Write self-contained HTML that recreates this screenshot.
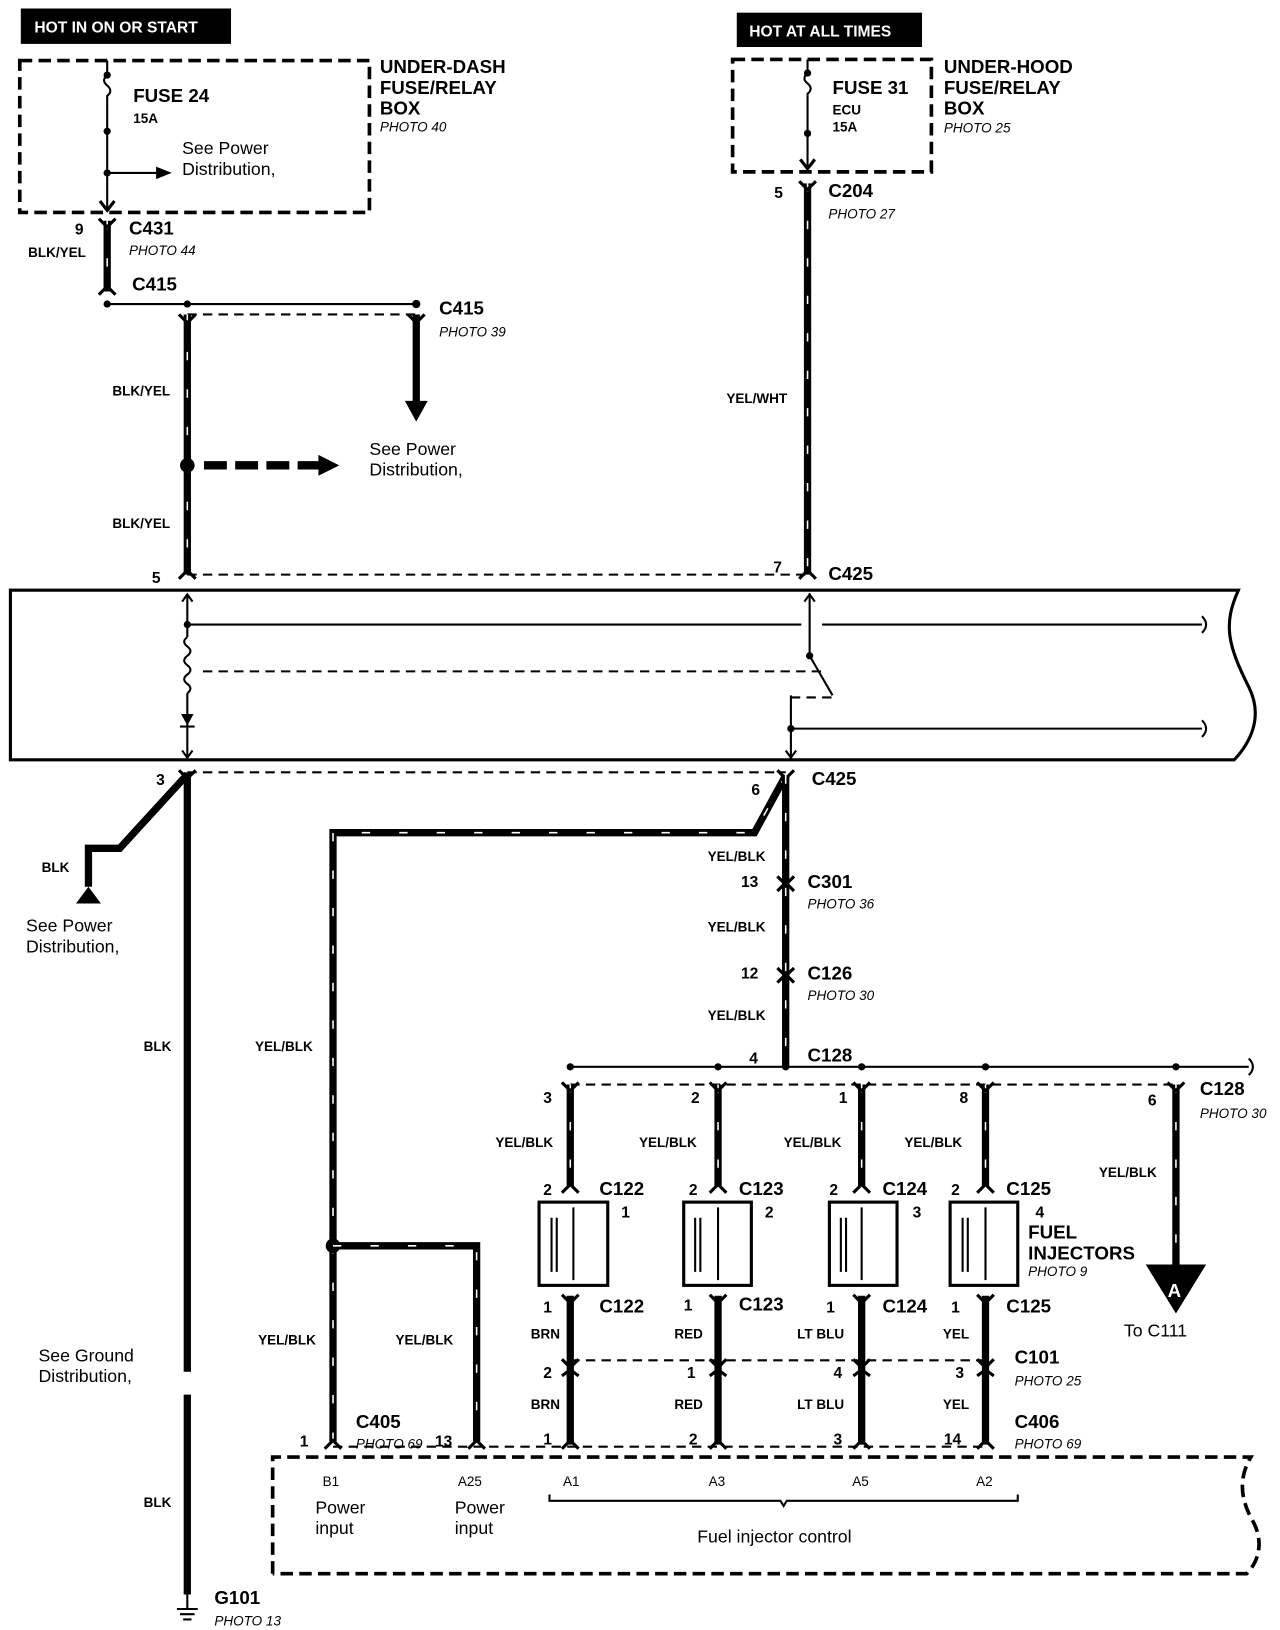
<!DOCTYPE html>
<html><head><meta charset="utf-8"><style>
html,body{margin:0;padding:0;background:#fff;}
svg{display:block;}
text{font-family:"Liberation Sans",Arial,sans-serif;fill:#000;}
.b{font-weight:bold;font-size:15px;}
.bl{font-weight:bold;font-size:18px;}
.s{font-weight:bold;font-size:13px;}
.i{font-style:italic;font-size:13px;}
.n{font-size:17px;}
.w{stroke:#000;stroke-width:7;fill:none;}
.wd{stroke:#fff;stroke-width:1.5;stroke-dasharray:8 28;fill:none;}
.t{stroke:#000;stroke-width:2;fill:none;}
.c{stroke:#000;stroke-width:3;fill:none;}
.d{stroke:#000;stroke-width:2;stroke-dasharray:9 6;fill:none;}
.db{stroke:#000;stroke-width:3.5;stroke-dasharray:12 6;fill:none;}
</style></head><body>
<svg width="1280" height="1630" viewBox="0 0 1230 1566" xmlns="http://www.w3.org/2000/svg">
<!-- top left -->
<rect x="20" y="8" width="202" height="34" fill="#000"/>
<text x="33" y="31" style="fill:#fff;font-weight:bold;font-size:15px">HOT IN ON OR START</text>
<rect x="19" y="58" width="336" height="146" class="db"/>
<path class="t" d="M103 58V72 M103 98V200"/>
<path class="t" d="M103 72 q-6 5 0 10 q6 5 0 10 v6"/>
<circle cx="103" cy="72" r="3.5"/><circle cx="103" cy="126" r="3.5"/><circle cx="103" cy="166" r="3.5"/>
<path class="t" d="M103 166H150"/><polygon points="150,160 165,166 150,172"/>
<text x="128" y="98" class="bl">FUSE 24</text><text x="128" y="118" class="s">15A</text>
<text x="175" y="148" class="n">See Power</text><text x="175" y="168" class="n">Distribution,</text>
<text x="365" y="70" class="bl">UNDER-DASH</text><text x="365" y="90" class="bl">FUSE/RELAY</text><text x="365" y="110" class="bl">BOX</text><text x="365" y="126" class="i">PHOTO 40</text>
<path class="c" d="M96 193L103 202L110 193"/>
<path class="w" d="M103 212V280"/><path class="wd" d="M103 212V280"/>
<path class="c" d="M95 210L103 218L111 210 M95 283L103 275L111 283"/>
<text x="72" y="225" class="b">9</text><text x="124" y="225" class="bl">C431</text><text x="124" y="245" class="i">PHOTO 44</text>
<text x="27" y="247" class="s">BLK/YEL</text><text x="127" y="279" class="bl">C415</text>
<path class="t" d="M103 292H400"/><circle cx="103" cy="292" r="3.5"/><circle cx="180" cy="292" r="3.5"/><circle cx="400" cy="292" r="4"/>
<path class="d" d="M180 302H400"/>
<path class="w" d="M180 302V552"/><path class="wd" d="M180 302V552"/>
<path class="c" d="M172 302L180 310L188 302 M392 302L400 310L408 302 M172 556L180 548L188 556"/>
<path class="w" d="M400 302V388"/><polygon points="389,385 411,385 400,405"/>
<text x="422" y="302" class="bl">C415</text><text x="422" y="323" class="i">PHOTO 39</text>
<text x="108" y="380" class="s">BLK/YEL</text><text x="108" y="507" class="s">BLK/YEL</text>
<circle cx="180" cy="447" r="7"/>
<path stroke="#000" stroke-width="8" stroke-dasharray="22 8" d="M196 447H308"/><polygon points="306,437 326,447 306,457"/>
<text x="355" y="437" class="n">See Power</text><text x="355" y="457" class="n">Distribution,</text>
<!-- top right -->
<rect x="708" y="12" width="178" height="33" fill="#000"/>
<text x="720" y="35" style="fill:#fff;font-weight:bold;font-size:15px">HOT AT ALL TIMES</text>
<rect x="704" y="57" width="191" height="108" class="db"/>
<path class="t" d="M776 57V70 M776 92V160"/>
<path class="t" d="M776 70 q-6 5 0 10 q6 5 0 10 v2"/>
<circle cx="776" cy="70" r="3.5"/><circle cx="776" cy="128" r="3.5"/>
<path class="c" d="M769 153L776 162L783 153"/>
<text x="800" y="90" class="bl">FUSE 31</text><text x="800" y="110" class="s">ECU</text><text x="800" y="126" class="s">15A</text>
<text x="907" y="70" class="bl">UNDER-HOOD</text><text x="907" y="90" class="bl">FUSE/RELAY</text><text x="907" y="110" class="bl">BOX</text><text x="907" y="127" class="i">PHOTO 25</text>
<path class="w" d="M776 176V552"/><path class="wd" d="M776 176V552"/>
<path class="c" d="M768 174L776 182L784 174 M768 556L776 548L784 556"/>
<text x="744" y="190" class="b">5</text><text x="796" y="189" class="bl">C204</text><text x="796" y="210" class="i">PHOTO 27</text>
<text x="698" y="387" class="s">YEL/WHT</text>
<text x="743" y="550" class="b">7</text><text x="796" y="557" class="bl">C425</text><text x="146" y="560" class="b">5</text>
<path class="d" d="M180 552H776"/>
<!-- main box -->
<path stroke="#000" stroke-width="3" fill="none" d="M10 567H1190 C1175 600 1180 620 1200 660 C1215 690 1200 715 1186 730 H10 Z"/>
<path class="t" d="M180 572V612 M180 666V728"/>
<path class="t" d="M175 578L180 571L185 578 M175 721L180 728L185 721 M773 578L778 571L783 578 M755 721L760 728L765 721"/>
<path class="t" d="M180 612 q-6 4.5 0 9 q6 4.5 0 9 q-6 4.5 0 9 q6 4.5 0 9 q-6 4.5 0 9 q6 4.5 0 9"/>
<polygon points="174,686 186,686 180,697"/><path class="t" d="M173 698H187"/>
<path class="t" d="M180 600H770 M790 600H1155 M778 570V630 L800 668"/>
<path d="M1155 592 q8 8 0 16 M1155 692 q8 8 0 16" class="t"/>
<circle cx="180" cy="600" r="3.5"/><circle cx="778" cy="630" r="3.5"/>
<path class="d" d="M195 645H790"/><path class="d" d="M760 670H800"/>
<path class="t" d="M760 668V728 M760 700H1155"/><circle cx="760" cy="700" r="3.5"/>
<!-- below box -->
<path class="d" d="M180 742H755"/>
<text x="150" y="754" class="b">3</text><text x="722" y="764" class="b">6</text><text x="780" y="754" class="bl">C425</text>
<path class="c" d="M172 740L180 748L188 740 M747 740L755 748L763 740"/>
<path class="w" d="M180 744 L115 815 H85 V852"/><polygon points="73,868 97,868 85,852"/>
<text x="40" y="838" class="s">BLK</text>
<text x="25" y="895" class="n">See Power</text><text x="25" y="915" class="n">Distribution,</text>
<path class="w" d="M180 742V1318 M180 1340V1532"/>
<text x="138" y="1010" class="s">BLK</text><text x="138" y="1448" class="s">BLK</text>
<text x="37" y="1308" class="n">See Ground</text><text x="37" y="1328" class="n">Distribution,</text>
<path class="t" d="M180 1532V1546 M170 1546H190 M173 1551H187 M176 1556H184"/>
<text x="206" y="1541" class="bl">G101</text><text x="206" y="1562" class="i">PHOTO 13</text>
<path class="w" d="M755 745 L725 800 H320 V1385"/><path class="wd" d="M755 745 L725 800 H320 V1385"/>
<circle cx="320" cy="1197" r="7"/>
<path class="w" d="M320 1197H458V1385"/><path class="wd" d="M320 1197H458V1385"/>
<path class="c" d="M312 1392L320 1384L328 1392 M450 1392L458 1384L466 1392"/>
<text x="245" y="1010" class="s">YEL/BLK</text><text x="248" y="1292" class="s">YEL/BLK</text><text x="380" y="1292" class="s">YEL/BLK</text>
<text x="288" y="1390" class="b">1</text><text x="342" y="1372" class="bl">C405</text><text x="342" y="1392" class="i">PHOTO 69</text><text x="418" y="1390" class="b">13</text>
<path class="w" d="M755 745V1025"/><path class="wd" d="M755 745V1025"/>
<path class="c" d="M747 842L755 850L763 842 M747 856L755 848L763 856 M747 930L755 938L763 930 M747 944L755 936L763 944"/>
<text x="680" y="827" class="s">YEL/BLK</text><text x="712" y="852" class="b">13</text><text x="776" y="853" class="bl">C301</text><text x="776" y="873" class="i">PHOTO 36</text>
<text x="680" y="895" class="s">YEL/BLK</text><text x="712" y="940" class="b">12</text><text x="776" y="941" class="bl">C126</text><text x="776" y="961" class="i">PHOTO 30</text>
<text x="680" y="980" class="s">YEL/BLK</text><text x="720" y="1022" class="b">4</text><text x="776" y="1020" class="bl">C128</text>
<path class="t" d="M548 1025H1200"/><path class="t" d="M1200 1017 q8 8 0 16"/>
<circle cx="548" cy="1025" r="3.5"/><circle cx="690" cy="1025" r="3.5"/><circle cx="755" cy="1025" r="3.5"/><circle cx="828" cy="1025" r="3.5"/><circle cx="947" cy="1025" r="3.5"/><circle cx="1130" cy="1025" r="3.5"/>
<path class="d" d="M548 1042H1130"/>
<path class="w" d="M1130 1042V1218"/><path class="wd" d="M1130 1042V1218"/>
<path class="c" d="M1122 1040L1130 1048L1138 1040"/>
<polygon points="1101,1215 1159,1215 1130,1262"/><text x="1122" y="1246" style="fill:#fff;font-weight:bold;font-size:18px">A</text>
<text x="1103" y="1062" class="b">6</text><text x="1153" y="1052" class="bl">C128</text><text x="1153" y="1074" class="i">PHOTO 30</text>
<text x="1056" y="1131" class="s">YEL/BLK</text><text x="1080" y="1284" class="n">To C111</text>
<text x="988" y="1190" class="bl">FUEL</text><text x="988" y="1210" class="bl">INJECTORS</text><text x="988" y="1226" class="i">PHOTO 9</text>
<text x="975" y="1310" class="bl">C101</text><text x="975" y="1331" class="i">PHOTO 25</text>
<text x="975" y="1372" class="bl">C406</text><text x="975" y="1392" class="i">PHOTO 69</text>
<path class="d" d="M548 1307H947"/><path class="d" d="M320 1390H947"/>
<g id="inj">
</g>
<g>
<path class="w" d="M548 1042V1140 M548 1245V1388"/><path class="wd" d="M548 1042V1140"/>
<path class="c" d="M540 1040L548 1048L556 1040 M540 1146L548 1138L556 1146 M540 1244L548 1252L556 1244 M540 1306L548 1314L556 1306 M540 1322L548 1316L556 1322 M540 1392L548 1384L556 1392"/>
<rect x="518" y="1155" width="66" height="80" fill="none" stroke="#000" stroke-width="3"/>
<path class="t" d="M530 1170V1222 M535 1170V1222 M551 1160V1230"/>
<text x="522" y="1060" class="b">3</text><text x="476" y="1102" class="s">YEL/BLK</text>
<text x="522" y="1148" class="b">2</text><text x="576" y="1148" class="bl">C122</text><text x="597" y="1170" class="b">1</text>
<text x="522" y="1261" class="b">1</text><text x="576" y="1261" class="bl">C122</text>
<text x="510" y="1286" class="s">BRN</text><text x="522" y="1324" class="b">2</text><text x="510" y="1354" class="s">BRN</text><text x="522" y="1388" class="b">1</text>
</g>
<g>
<path class="w" d="M690 1042V1140 M690 1245V1388"/><path class="wd" d="M690 1042V1140"/>
<path class="c" d="M682 1040L690 1048L698 1040 M682 1146L690 1138L698 1146 M682 1244L690 1252L698 1244 M682 1306L690 1314L698 1306 M682 1322L690 1316L698 1322 M682 1392L690 1384L698 1392"/>
<rect x="657" y="1155" width="65" height="80" fill="none" stroke="#000" stroke-width="3"/>
<path class="t" d="M668 1170V1222 M673 1170V1222 M690 1160V1230"/>
<text x="664" y="1060" class="b">2</text><text x="614" y="1102" class="s">YEL/BLK</text>
<text x="662" y="1148" class="b">2</text><text x="710" y="1148" class="bl">C123</text><text x="735" y="1170" class="b">2</text>
<text x="657" y="1259" class="b">1</text><text x="710" y="1259" class="bl">C123</text>
<text x="648" y="1286" class="s">RED</text><text x="660" y="1324" class="b">1</text><text x="648" y="1354" class="s">RED</text><text x="662" y="1388" class="b">2</text>
</g>
<g>
<path class="w" d="M828 1042V1140 M828 1245V1388"/><path class="wd" d="M828 1042V1140"/>
<path class="c" d="M820 1040L828 1048L836 1040 M820 1146L828 1138L836 1146 M820 1244L828 1252L836 1244 M820 1306L828 1314L836 1306 M820 1322L828 1316L836 1322 M820 1392L828 1384L836 1392"/>
<rect x="797" y="1155" width="65" height="80" fill="none" stroke="#000" stroke-width="3"/>
<path class="t" d="M808 1170V1222 M813 1170V1222 M828 1160V1230"/>
<text x="806" y="1060" class="b">1</text><text x="753" y="1102" class="s">YEL/BLK</text>
<text x="797" y="1148" class="b">2</text><text x="848" y="1148" class="bl">C124</text><text x="877" y="1170" class="b">3</text>
<text x="794" y="1261" class="b">1</text><text x="848" y="1261" class="bl">C124</text>
<text x="766" y="1286" class="s">LT BLU</text><text x="801" y="1324" class="b">4</text><text x="766" y="1354" class="s">LT BLU</text><text x="801" y="1388" class="b">3</text>
</g>
<g>
<path class="w" d="M947 1042V1140 M947 1245V1388"/><path class="wd" d="M947 1042V1140"/>
<path class="c" d="M939 1040L947 1048L955 1040 M939 1146L947 1138L955 1146 M939 1244L947 1252L955 1244 M939 1306L947 1314L955 1306 M939 1322L947 1316L955 1322 M939 1392L947 1384L955 1392"/>
<rect x="913" y="1155" width="65" height="80" fill="none" stroke="#000" stroke-width="3"/>
<path class="t" d="M925 1170V1222 M930 1170V1222 M947 1160V1230"/>
<text x="922" y="1060" class="b">8</text><text x="869" y="1102" class="s">YEL/BLK</text>
<text x="914" y="1148" class="b">2</text><text x="967" y="1148" class="bl">C125</text><text x="995" y="1170" class="b">4</text>
<text x="914" y="1261" class="b">1</text><text x="967" y="1261" class="bl">C125</text>
<text x="906" y="1286" class="s">YEL</text><text x="918" y="1324" class="b">3</text><text x="906" y="1354" class="s">YEL</text><text x="907" y="1388" class="b">14</text>
</g>
<!-- ECM box -->
<path class="db" d="M262 1512V1400H1202 C1190 1420 1192 1440 1203 1460 C1215 1480 1210 1500 1198 1512 H262"/>
<text x="310" y="1428" style="font-size:13px">B1</text><text x="303" y="1454" class="n">Power</text><text x="303" y="1474" class="n">input</text>
<text x="440" y="1428" style="font-size:13px">A25</text><text x="437" y="1454" class="n">Power</text><text x="437" y="1474" class="n">input</text>
<text x="541" y="1428" style="font-size:13px">A1</text><text x="681" y="1428" style="font-size:13px">A3</text><text x="819" y="1428" style="font-size:13px">A5</text><text x="938" y="1428" style="font-size:13px">A2</text>
<path class="t" d="M528 1436V1442H750L753 1447L756 1442H978V1436"/>
<text x="670" y="1482" class="n">Fuel injector control</text>
</svg>
</body></html>
